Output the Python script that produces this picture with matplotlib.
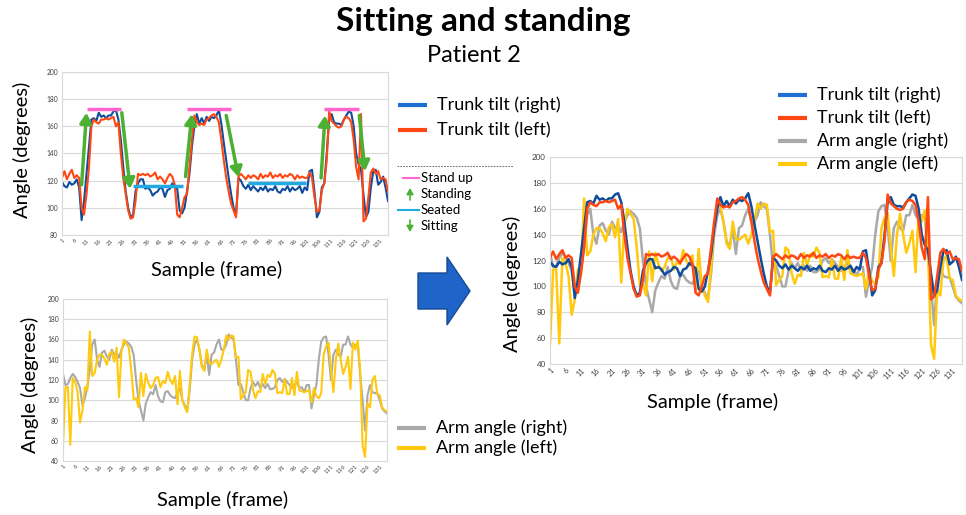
import numpy as np
import matplotlib
matplotlib.use("Agg")
import matplotlib.pyplot as plt
from matplotlib.patches import Polygon

plt.rcParams['font.family'] = ['Lato', 'DejaVu Sans']

# ==================== Data ====================
trunk_right = [119, 116, 115, 119, 117, 118, 121, 115, 91, 105,
               125, 145, 165, 166, 164, 170, 167, 168, 166, 168,
               168, 171, 172, 165, 150, 130, 112, 100, 93, 95,
               112, 118, 121, 121, 114, 115, 113, 109, 111, 112,
               115, 114, 108, 113, 114, 118, 116, 114, 98, 96,
               100, 112, 125, 145, 160, 169, 162, 166, 162, 167,
               164, 167, 166, 168, 172, 162, 148, 135, 122, 110,
               100, 95, 122, 120, 116, 114, 117, 113, 116, 114,
               112, 115, 113, 116, 112, 114, 113, 116, 112, 111,
               114, 113, 116, 112, 115, 113, 114, 116, 111, 115,
               113, 127, 128, 112, 93, 97, 115, 118, 140, 165,
               169, 163, 162, 162, 161, 165, 168, 171, 170, 160,
               140, 132, 128, 110, 93, 97, 115, 127, 128, 117,
               119, 123, 115, 105]

trunk_left = [122, 127, 121, 125, 128, 122, 124, 122, 100, 95,
              110, 130, 160, 165, 163, 162, 165, 165, 166, 165,
              166, 167, 160, 163, 140, 122, 110, 98, 92, 93,
              105, 125, 124, 125, 124, 125, 123, 124, 126, 121,
              123, 121, 118, 122, 125, 123, 117, 95, 93, 100,
              108, 110, 130, 150, 168, 163, 161, 162, 161, 165,
              166, 168, 169, 167, 163, 150, 135, 122, 112, 103,
              98, 93, 123, 125, 123, 121, 124, 122, 124, 123,
              121, 125, 122, 124, 123, 126, 122, 124, 123, 125,
              122, 124, 123, 125, 124, 121, 124, 122, 123, 122,
              122, 126, 122, 108, 97, 98, 113, 118, 135, 171,
              164, 162, 160, 159, 160, 165, 167, 166, 163, 150,
              130, 121, 169, 90, 92, 108, 126, 129, 125, 127,
              121, 122, 121, 112]

arm_right = [126, 115, 116, 122, 126, 123, 118, 112, 95, 102,
             113, 130, 155, 160, 140, 133, 147, 149, 143, 140,
             150, 145, 147, 142, 150, 155, 158, 156, 153, 145,
             120, 100, 90, 80, 97, 103, 108, 106, 115, 104,
             99, 98, 108, 109, 105, 103, 102, 108, 112, 100,
             95, 90, 110, 140, 155, 160, 150, 135, 130, 145,
             125, 145, 147, 155, 160, 150, 150, 155, 165, 162,
             160, 140, 115, 116, 108, 100, 100, 112, 118, 114,
             118, 112, 116, 112, 116, 111, 111, 113, 120, 122,
             118, 121, 118, 115, 112, 115, 118, 112, 113, 108,
             115, 115, 92, 105, 115, 140, 158, 162, 163, 145,
             120, 145, 150, 145, 143, 155, 155, 163, 155, 152,
             155, 155, 125, 100, 70, 105, 115, 108, 107, 107,
             100, 92, 89, 87]

arm_left = [55, 113, 113, 56, 122, 118, 108, 78, 90, 113,
            110, 168, 124, 127, 140, 145, 145, 141, 135, 146,
            148, 138, 152, 103, 148, 160, 156, 152, 130, 101,
            102, 93, 127, 104, 126, 117, 112, 115, 122, 123,
            113, 119, 117, 128, 120, 116, 124, 96, 129, 100,
            93, 88, 115, 145, 163, 162, 150, 133, 129, 150,
            137, 136, 138, 140, 133, 140, 150, 164, 160, 164,
            163, 142, 143, 101, 105, 108, 130, 128, 110, 102,
            109, 108, 126, 116, 125, 123, 130, 126, 107, 108,
            107, 121, 106, 106, 122, 105, 128, 110, 109, 108,
            109, 110, 98, 112, 104, 102, 107, 145, 153, 157,
            130, 108, 140, 156, 140, 126, 133, 143, 111, 157,
            150, 159, 130, 55, 44, 97, 93, 120, 124, 106,
            105, 93, 90, 89]

samples = np.arange(1, len(trunk_right) + 1)
xtick_labels = np.arange(1, 132, 5)

# phase annotations on the trunk chart (sample start, sample end, angle)
stand_up_spans = [(11, 25, 173), (52, 70, 173), (108, 122, 173)]
seated_spans = [(30, 50.5, 116), (77, 100.5, 118.5)]
standing_arrows = [(9, 117, 11, 170), (51.4, 123, 54, 169), (106.7, 122, 108.3, 168)]
sitting_arrows = [(25.4, 170, 28.8, 114), (68, 168, 73, 122.5), (122.3, 168, 124.6, 127)]

BLUE = '#0f4c9c'
BLUE_LEG = '#1f6fd0'
RED = '#ff4713'
GRAY = '#a9a9a9'
YELLOW = '#ffc90e'
GREEN = '#4cb133'
PINK = '#ff66cc'
CYAN = '#21a9e1'

W, H = 966, 515
fig = plt.figure(figsize=(W / 100, H / 100), dpi=100)

# overlay in pixel coordinates for titles, legends and the big arrow
ov = fig.add_axes([0, 0, 1, 1])
ov.set_xlim(0, W)
ov.set_ylim(H, 0)
ov.axis('off')
ov.set_zorder(10)


def px_axes(l, t, r, b):
    return fig.add_axes([l / W, 1 - b / H, (r - l) / W, (b - t) / H])


def style_axes(ax, ymin, ymax, fs):
    ax.set_xlim(1, len(samples))
    ax.set_ylim(ymin, ymax)
    ax.set_yticks(np.arange(ymin, ymax + 1, 20))
    ax.set_xticks(xtick_labels)
    ax.tick_params(axis='y', labelsize=fs, length=0, pad=3, colors='#404040')
    ax.tick_params(axis='x', labelsize=fs - 0.5, length=0, pad=2, colors='#404040',
                   labelrotation=45)
    for lab in ax.get_xticklabels():
        lab.set_ha('right')
        lab.set_rotation_mode('anchor')
    ax.grid(axis='y', color='#d9d9d9', lw=0.8)
    ax.set_axisbelow(True)
    for sp in ax.spines.values():
        sp.set_color('#d9d9d9')
        sp.set_linewidth(0.8)


# ==================== Top-left: trunk tilt ====================
ax1 = px_axes(62, 72, 388, 235)
ax1.plot(samples, trunk_right, color=BLUE, lw=1.5)
ax1.plot(samples, trunk_left, color=RED, lw=1.5)
style_axes(ax1, 80, 200, 4.8)

for x0, x1, y in stand_up_spans:
    ax1.plot([x0, x1], [y, y], color=PINK, lw=2.5, solid_capstyle='butt')
for x0, x1, y in seated_spans:
    ax1.plot([x0, x1], [y, y], color=CYAN, lw=2.5, solid_capstyle='butt')
for x0, y0, x1, y1 in standing_arrows + sitting_arrows:
    ax1.annotate('', xy=(x1, y1), xytext=(x0, y0),
                 arrowprops=dict(arrowstyle='-|>,head_width=0.35,head_length=0.6',
                                 color=GREEN, lw=2.5, shrinkA=0, shrinkB=0))

# ==================== Bottom-left: arm angle ====================
ax2 = px_axes(63, 299, 387, 461)
ax2.plot(samples, arm_right, color=GRAY, lw=1.5)
ax2.plot(samples, arm_left, color=YELLOW, lw=1.5)
style_axes(ax2, 40, 200, 4.8)

# ==================== Right: combined ====================
ax3 = px_axes(550, 157, 962, 364)
ax3.plot(samples, arm_right, color=GRAY, lw=1.8)
ax3.plot(samples, arm_left, color=YELLOW, lw=1.8)
ax3.plot(samples, trunk_right, color=BLUE, lw=1.8)
ax3.plot(samples, trunk_left, color=RED, lw=1.8)
style_axes(ax3, 40, 200, 5.8)

# ==================== Titles and axis labels ====================
ov.text(483, 22, 'Sitting and standing', ha='center', va='center',
        fontsize=24, fontweight='bold')
ov.text(474, 56, 'Patient 2', ha='center', va='center', fontsize=17)

lab_fs = 14.5
ov.text(22, 150, 'Angle (degrees)', rotation=90, ha='center', va='center', fontsize=lab_fs)
ov.text(217, 270, 'Sample (frame)', ha='center', va='center', fontsize=lab_fs)
ov.text(30, 385, 'Angle (degrees)', rotation=90, ha='center', va='center', fontsize=lab_fs)
ov.text(223, 500, 'Sample (frame)', ha='center', va='center', fontsize=lab_fs)
ov.text(512, 284, 'Angle (degrees)', rotation=90, ha='center', va='center', fontsize=lab_fs)
ov.text(713, 402, 'Sample (frame)', ha='center', va='center', fontsize=lab_fs)

# ==================== Legends ====================
leg_fs = 13


def legend_row(x, y, color, label):
    ov.plot([x, x + 29], [y, y], color=color, lw=3, solid_capstyle='butt')
    ov.text(x + 39, y, label, ha='left', va='center', fontsize=leg_fs)


legend_row(398, 105, BLUE_LEG, 'Trunk tilt (right)')
legend_row(398, 130, RED, 'Trunk tilt (left)')

legend_row(397, 428, GRAY, 'Arm angle (right)')
legend_row(397, 448, YELLOW, 'Arm angle (left)')

legend_row(778, 95, BLUE_LEG, 'Trunk tilt (right)')
legend_row(778, 118, RED, 'Trunk tilt (left)')
legend_row(778, 141, GRAY, 'Arm angle (right)')
legend_row(778, 164, YELLOW, 'Arm angle (left)')

# phase key
ov.plot([397, 513], [166, 166], color='#555555', lw=0.6, ls=(0, (2, 1.5)))
small_fs = 9.5
ov.plot([403, 419], [178, 178], color=PINK, lw=1.5)
ov.text(421, 178, 'Stand up', ha='left', va='center', fontsize=small_fs)
ov.annotate('', xy=(410, 188), xytext=(410, 200),
            arrowprops=dict(arrowstyle='-|>,head_width=0.2,head_length=0.35',
                            color=GREEN, lw=1.2, shrinkA=0, shrinkB=0))
ov.text(421, 194, 'Standing', ha='left', va='center', fontsize=small_fs)
ov.plot([398, 419], [210, 210], color=CYAN, lw=1.5)
ov.text(421, 210, 'Seated', ha='left', va='center', fontsize=small_fs)
ov.annotate('', xy=(410, 232), xytext=(410, 220),
            arrowprops=dict(arrowstyle='-|>,head_width=0.2,head_length=0.35',
                            color=GREEN, lw=1.2, shrinkA=0, shrinkB=0))
ov.text(421, 226, 'Sitting', ha='left', va='center', fontsize=small_fs)

# ==================== Big arrow ====================
arrow_pts = [(418, 273), (447, 273), (447, 257), (470, 291),
             (447, 325), (447, 309), (418, 309)]
ov.add_patch(Polygon(arrow_pts, closed=True, facecolor='#1f64c8',
                     edgecolor='#174a94', lw=1))

fig.savefig('out.png', dpi=100)
